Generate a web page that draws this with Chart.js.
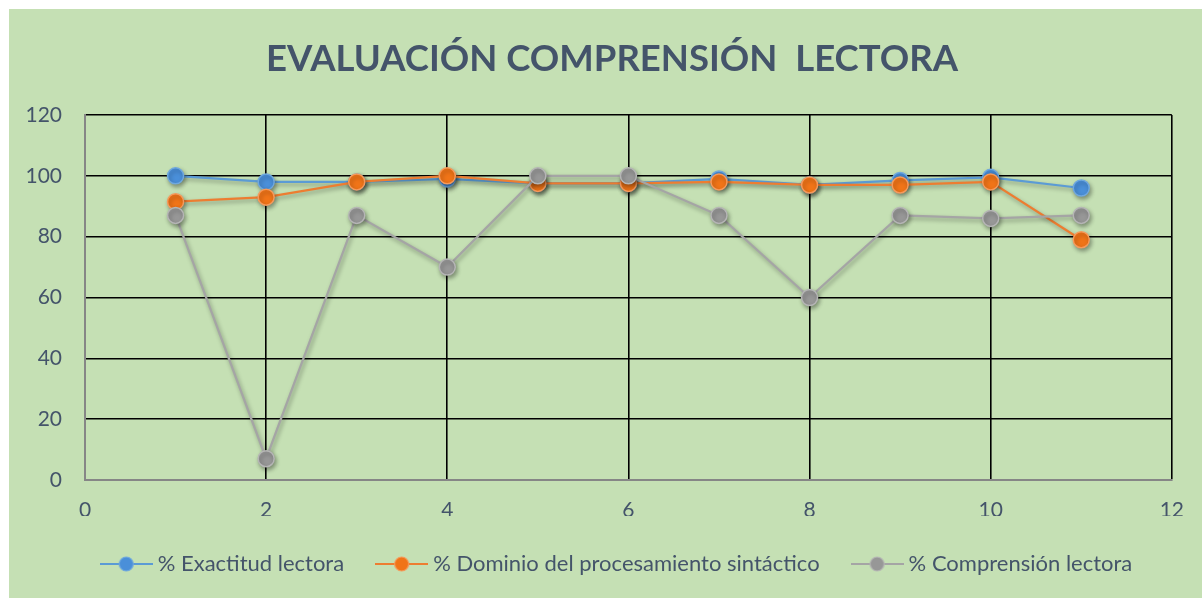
<!DOCTYPE html>
<html><head><meta charset="utf-8">
<script src="https://cdn.jsdelivr.net/npm/chart.js@4"></script>
<style>html,body{margin:0;padding:0;background:#fff;overflow:hidden}</style>
</head><body>
<canvas id="c" width="1202" height="598" style="display:block;width:1202px;height:598px"></canvas>
<script>
// ---- data ----
const pointIndex = [1,2,3,4,5,6,7,8,9,10,11];
const exactitud   = [100, 98, 98, 99, 97.5, 97.5, 99, 97, 98.5, 99.5, 96];
const dominio     = [91.5, 93, 98, 100, 97.5, 97.5, 98, 97, 97, 98, 79];
const comprension = [87, 7, 87, 70, 100, 100, 87, 60, 87, 86, 87];
const seriesNames = ['% Exactitud lectora', '% Dominio del procesamiento sintáctico', '% Comprensión lectora'];
const chartTitle = 'EVALUACIÓN COMPRENSIÓN  LECTORA';
const xTickValues = [0,2,4,6,8,10,12];
const yTickValues = [0,20,40,60,80,100,120];

// ---- styles ----
const lineColors = ['#5B9BD5', '#ED7D31', '#A5A5A5'];
const fillColors = ['#4A8FD9', '#F07418', '#979797'];
const ringColors = ['#6FA8DE', '#F59A5C', '#B5B5B5'];
const textColor = '#44546A';
const FONT = 'Lato, "Open Sans", sans-serif';

function toPts(arr){ return pointIndex.map((x,i)=>({x:x, y:arr[i]})); }

function legendSymbol(i){
  const cv = document.createElement('canvas');
  cv.width = 53; cv.height = 20;
  const c = cv.getContext('2d');
  c.strokeStyle = lineColors[i]; c.lineWidth = 2;
  c.beginPath(); c.moveTo(0,10); c.lineTo(53,10); c.stroke();
  c.beginPath(); c.arc(26.5,10,7,0,Math.PI*2);
  c.fillStyle = fillColors[i]; c.fill();
  c.strokeStyle = ringColors[i]; c.lineWidth = 1.2; c.stroke();
  return cv;
}
const symbols = [0,1,2].map(legendSymbol);

const bgPlugin = {
  id:'bg',
  beforeDraw(chart){
    const c = chart.ctx;
    c.save();
    c.fillStyle = '#ffffff'; c.fillRect(0,0,chart.width,chart.height);
    c.fillStyle = '#C5E0B4'; c.fillRect(9,9,chart.width-9,chart.height-9);
    c.restore();
  }
};
const shadowPlugin = {
  id:'shadow',
  beforeDatasetDraw(chart){
    const c = chart.ctx; c.save();
    c.shadowColor = 'rgba(0,0,0,0.35)'; c.shadowBlur = 4; c.shadowOffsetX = 1.5; c.shadowOffsetY = 2.5;
  },
  afterDatasetDraw(chart){ chart.ctx.restore(); }
};
// nudge title and legend horizontally so they sit where the reference puts them
const shiftPlugin = {
  id:'shift',
  afterLayout(chart){
    if (chart.titleBlock){ chart.titleBlock.left += 20; chart.titleBlock.right += 20; }
    if (chart.legend){ chart.legend.left += 27; chart.legend.right += 27; }
  }
};

const seriesData = [exactitud, dominio, comprension];
const datasets = seriesData.map((arr,i)=>({
  label: seriesNames[i],
  data: toPts(arr),
  order: 3 - i,
  borderColor: lineColors[i],
  borderWidth: 2.25,
  backgroundColor: fillColors[i],
  pointBackgroundColor: fillColors[i],
  pointBorderColor: ringColors[i],
  pointBorderWidth: 1.5,
  pointRadius: 8,
  pointHoverRadius: 8,
  tension: 0,
  fill: false
}));

new Chart(document.getElementById('c'), {
  type: 'line',
  data: { datasets },
  plugins: [bgPlugin, shadowPlugin, shiftPlugin],
  options: {
    responsive: false,
    animation: false,
    devicePixelRatio: 1,
    layout: { padding: { left: 9, top: 9, right: 27, bottom: 13 } },
    plugins: {
      tooltip: { enabled: false },
      title: {
        display: true, text: chartTitle, color: textColor,
        font: { family: FONT, size: 36.5, weight: 'bold', lineHeight: 1.2 },
        padding: { top: 28, bottom: 34.2 }
      },
      legend: {
        position: 'bottom',
        labels: {
          color: textColor,
          font: { family: FONT, size: 22 },
          usePointStyle: true,
          pointStyleWidth: 41,
          padding: 37,
          generateLabels(chart){
            return seriesNames.map((n,i)=>({
              text: n, pointStyle: symbols[i], fillStyle: fillColors[i],
              strokeStyle: lineColors[i], lineWidth: 0, hidden: false, datasetIndex: i, fontColor: textColor
            }));
          }
        }
      }
    },
    scales: {
      x: {
        type: 'linear', min: 0, max: 12,
        afterBuildTicks(s){ s.ticks = xTickValues.map(v=>({value:v})); },
        afterFit(s){ s.height = 36; },
        ticks: { color: textColor, font: { family: FONT, size: 21 }, padding: 18, maxRotation: 0 },
        grid: { drawTicks: false, lineWidth: 1.6, color: ctx => ctx.tick && ctx.tick.value === 0 ? 'rgba(0,0,0,0)' : '#000000' },
        border: { display: true, color: '#868686', width: 2 }
      },
      y: {
        type: 'linear', min: 0, max: 120,
        afterBuildTicks(s){ s.ticks = yTickValues.map(v=>({value:v})); },
        afterFit(s){ s.width = 76; },
        ticks: { color: textColor, font: { family: FONT, size: 21 }, padding: 23 },
        grid: { drawTicks: false, lineWidth: 1.6, color: ctx => ctx.tick && ctx.tick.value === 0 ? 'rgba(0,0,0,0)' : '#000000' },
        border: { display: true, color: '#868686', width: 2 }
      }
    }
  }
});
</script>
</body></html>
